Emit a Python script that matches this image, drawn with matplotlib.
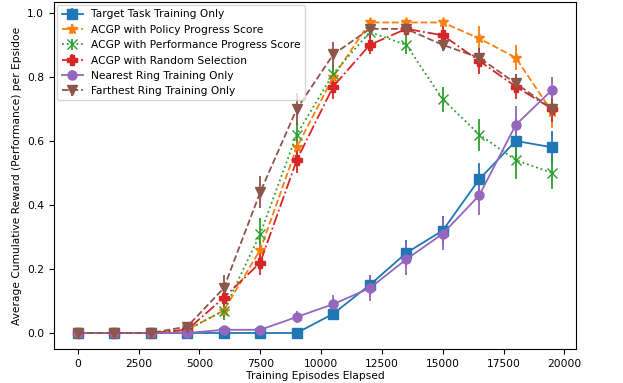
import matplotlib
matplotlib.use("Agg")
import matplotlib.pyplot as plt

episodes = [0, 1500, 3000, 4500, 6000, 7500, 9000, 10500, 12000, 13500, 15000, 16500, 18000, 19500]

labels = [
    "Target Task Training Only",
    "ACGP with Policy Progress Score",
    "ACGP with Performance Progress Score",
    "ACGP with Random Selection",
    "Nearest Ring Training Only",
    "Farthest Ring Training Only",
]

target_mean = [0, 0, 0, 0, 0, 0, 0, 0.06, 0.15, 0.25, 0.32, 0.48, 0.60, 0.58]
target_err = [0, 0, 0, 0, 0, 0, 0, 0.015, 0.03, 0.04, 0.045, 0.05, 0.07, 0.05]

policy_mean = [0, 0, 0, 0.01, 0.07, 0.26, 0.58, 0.80, 0.97, 0.97, 0.97, 0.92, 0.86, 0.69]
policy_err = [0, 0, 0, 0.01, 0.02, 0.04, 0.04, 0.03, 0.01, 0.01, 0.01, 0.04, 0.04, 0.05]

perf_mean = [0, 0, 0, 0.01, 0.07, 0.31, 0.62, 0.81, 0.94, 0.90, 0.73, 0.62, 0.54, 0.50]
perf_err = [0, 0, 0, 0.01, 0.03, 0.05, 0.04, 0.03, 0.02, 0.03, 0.04, 0.05, 0.06, 0.05]

random_mean = [0, 0, 0, 0.01, 0.11, 0.22, 0.54, 0.77, 0.90, 0.95, 0.93, 0.85, 0.77, 0.70]
random_err = [0, 0, 0, 0.01, 0.03, 0.04, 0.04, 0.04, 0.03, 0.01, 0.03, 0.04, 0.04, 0.04]

nearest_mean = [0, 0, 0, 0, 0.01, 0.01, 0.05, 0.09, 0.14, 0.23, 0.31, 0.43, 0.65, 0.76]
nearest_err = [0, 0, 0, 0, 0.01, 0.01, 0.02, 0.03, 0.04, 0.05, 0.05, 0.06, 0.06, 0.04]

farthest_mean = [0, 0, 0, 0.02, 0.14, 0.44, 0.70, 0.87, 0.95, 0.95, 0.90, 0.86, 0.78, 0.70]
farthest_err = [0, 0, 0, 0.01, 0.04, 0.05, 0.05, 0.04, 0.02, 0.02, 0.02, 0.03, 0.03, 0.03]

means = [target_mean, policy_mean, perf_mean, random_mean, nearest_mean, farthest_mean]
errs = [target_err, policy_err, perf_err, random_err, nearest_err, farthest_err]
colors = ["#1f77b4", "#ff7f0e", "#2ca02c", "#d62728", "#9467bd", "#8c564b"]
markers = ["s", "*", "x", "P", "o", "v"]
sizes = [6.5, 7, 7, 7.5, 6.5, 7]
styles = ["-", "--", ":", "-.", "-", "--"]

plt.rcParams["font.family"] = "DejaVu Sans"
plt.rcParams["font.size"] = 7.7

fig = plt.figure(figsize=(6.23, 3.83), dpi=100)
ax = fig.add_axes([0.0867, 0.0888, 0.8378, 0.906])

for m, e, c, mk, ms, ls, lab in zip(means, errs, colors, markers, sizes, styles, labels):
    ax.errorbar(episodes, m, yerr=e, color=c, marker=mk, linestyle=ls,
                linewidth=1.3, markersize=ms, label=lab)

ax.set_ylim(-0.05, 1.034)
ax.set_xticks([0, 2500, 5000, 7500, 10000, 12500, 15000, 17500, 20000])
ax.set_yticks([0.0, 0.2, 0.4, 0.6, 0.8, 1.0])
ax.set_xlabel("Training Episodes Elapsed", labelpad=2)
ax.set_ylabel("Average Cumulative Reward (Performance) per Epsidoe", labelpad=4)
ax.legend(loc="upper left", fontsize=7.7, borderaxespad=0.3)

fig.savefig("out.png", dpi=100)
